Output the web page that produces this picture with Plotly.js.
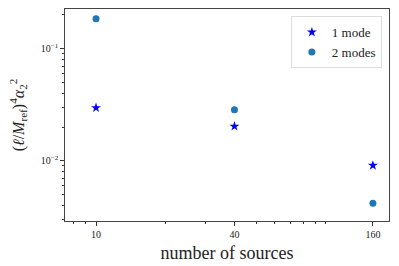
<!DOCTYPE html>
<html>
<head>
<meta charset="utf-8">
<script src="https://cdn.plot.ly/plotly-3.0.1.min.js"></script>
<style>html,body{margin:0;padding:0;background:#fff;}#chart{width:399px;height:266px;}</style>
</head>
<body>
<div id="chart"></div>
<script>
const sources = [10, 40, 160];
const oneMode = [0.0297, 0.0203, 0.0091];
const twoModes = [0.185, 0.0285, 0.0042];
const xTickVals = [10, 40, 160];
const xTickText = ['10', '40', '160'];
const xMinorVals = [8, 9, 20, 30, 50, 60, 70, 80, 90, 100];
const yTickVals = [0.01, 0.1];
const yTickText = ['10<sup>−2</sup>', '10<sup>−1</sup>'];
const yMinorVals = [0.003, 0.004, 0.005, 0.006, 0.007, 0.008, 0.009, 0.02, 0.03, 0.04, 0.05, 0.06, 0.07, 0.08, 0.09, 0.2];

const serif = 'Liberation Serif, DejaVu Serif, serif';
const traces = [
  {x: sources, y: oneMode, mode: 'markers', type: 'scatter', name: '1 mode',
   marker: {symbol: 'star', color: '#0000ff', size: 7.5}},
  {x: sources, y: twoModes, mode: 'markers', type: 'scatter', name: '2 modes',
   marker: {symbol: 'circle', color: '#1f77b4', size: 7}}
];
const layout = {
  width: 399, height: 266,
  margin: {l: 65, r: 10, t: 9, b: 45},
  paper_bgcolor: '#fff', plot_bgcolor: '#fff',
  font: {family: serif, color: '#222'},
  showlegend: true,
  legend: {x: 0.978, y: 0.966, xanchor: 'right', yanchor: 'top',
    bordercolor: '#dddddd', borderwidth: 1, bgcolor: 'rgba(255,255,255,0.8)',
    itemwidth: 30, tracegroupgap: 0,
    font: {family: serif, size: 13, color: '#222'}},
  xaxis: {type: 'log', range: [Math.log10(7.33), Math.log10(188)],
    tickmode: 'array', tickvals: xTickVals, ticktext: xTickText,
    ticks: 'outside', ticklen: 3.5, tickcolor: '#333', tickfont: {size: 10, family: serif},
    minor: {tickmode: 'array', tickvals: xMinorVals, ticks: 'outside', ticklen: 2, tickcolor: '#333', showgrid: false},
    showline: true, mirror: true, linecolor: '#444', linewidth: 1.2,
    showgrid: false, zeroline: false,
    title: {text: 'number of sources', font: {size: 18, family: serif}, standoff: 7}},
  yaxis: {type: 'log', range: [-2.536, -0.647],
    tickmode: 'array', tickvals: yTickVals, ticktext: yTickText,
    ticks: 'outside', ticklen: 3.5, tickcolor: '#333', tickfont: {size: 10, family: serif},
    minor: {tickmode: 'array', tickvals: yMinorVals, ticks: 'outside', ticklen: 2, tickcolor: '#333', showgrid: false},
    showline: true, mirror: true, linecolor: '#444', linewidth: 1.2,
    showgrid: false, zeroline: false,
    title: {text: '(<i>ℓ</i>/<i>M</i><sub>ref</sub>)<sup>4</sup><i>α</i><sub>2</sub><sup>2</sup>', font: {size: 16, family: serif}, standoff: 12}}
};
Plotly.newPlot('chart', traces, layout, {staticPlot: true, displayModeBar: false});
</script>
</body>
</html>
